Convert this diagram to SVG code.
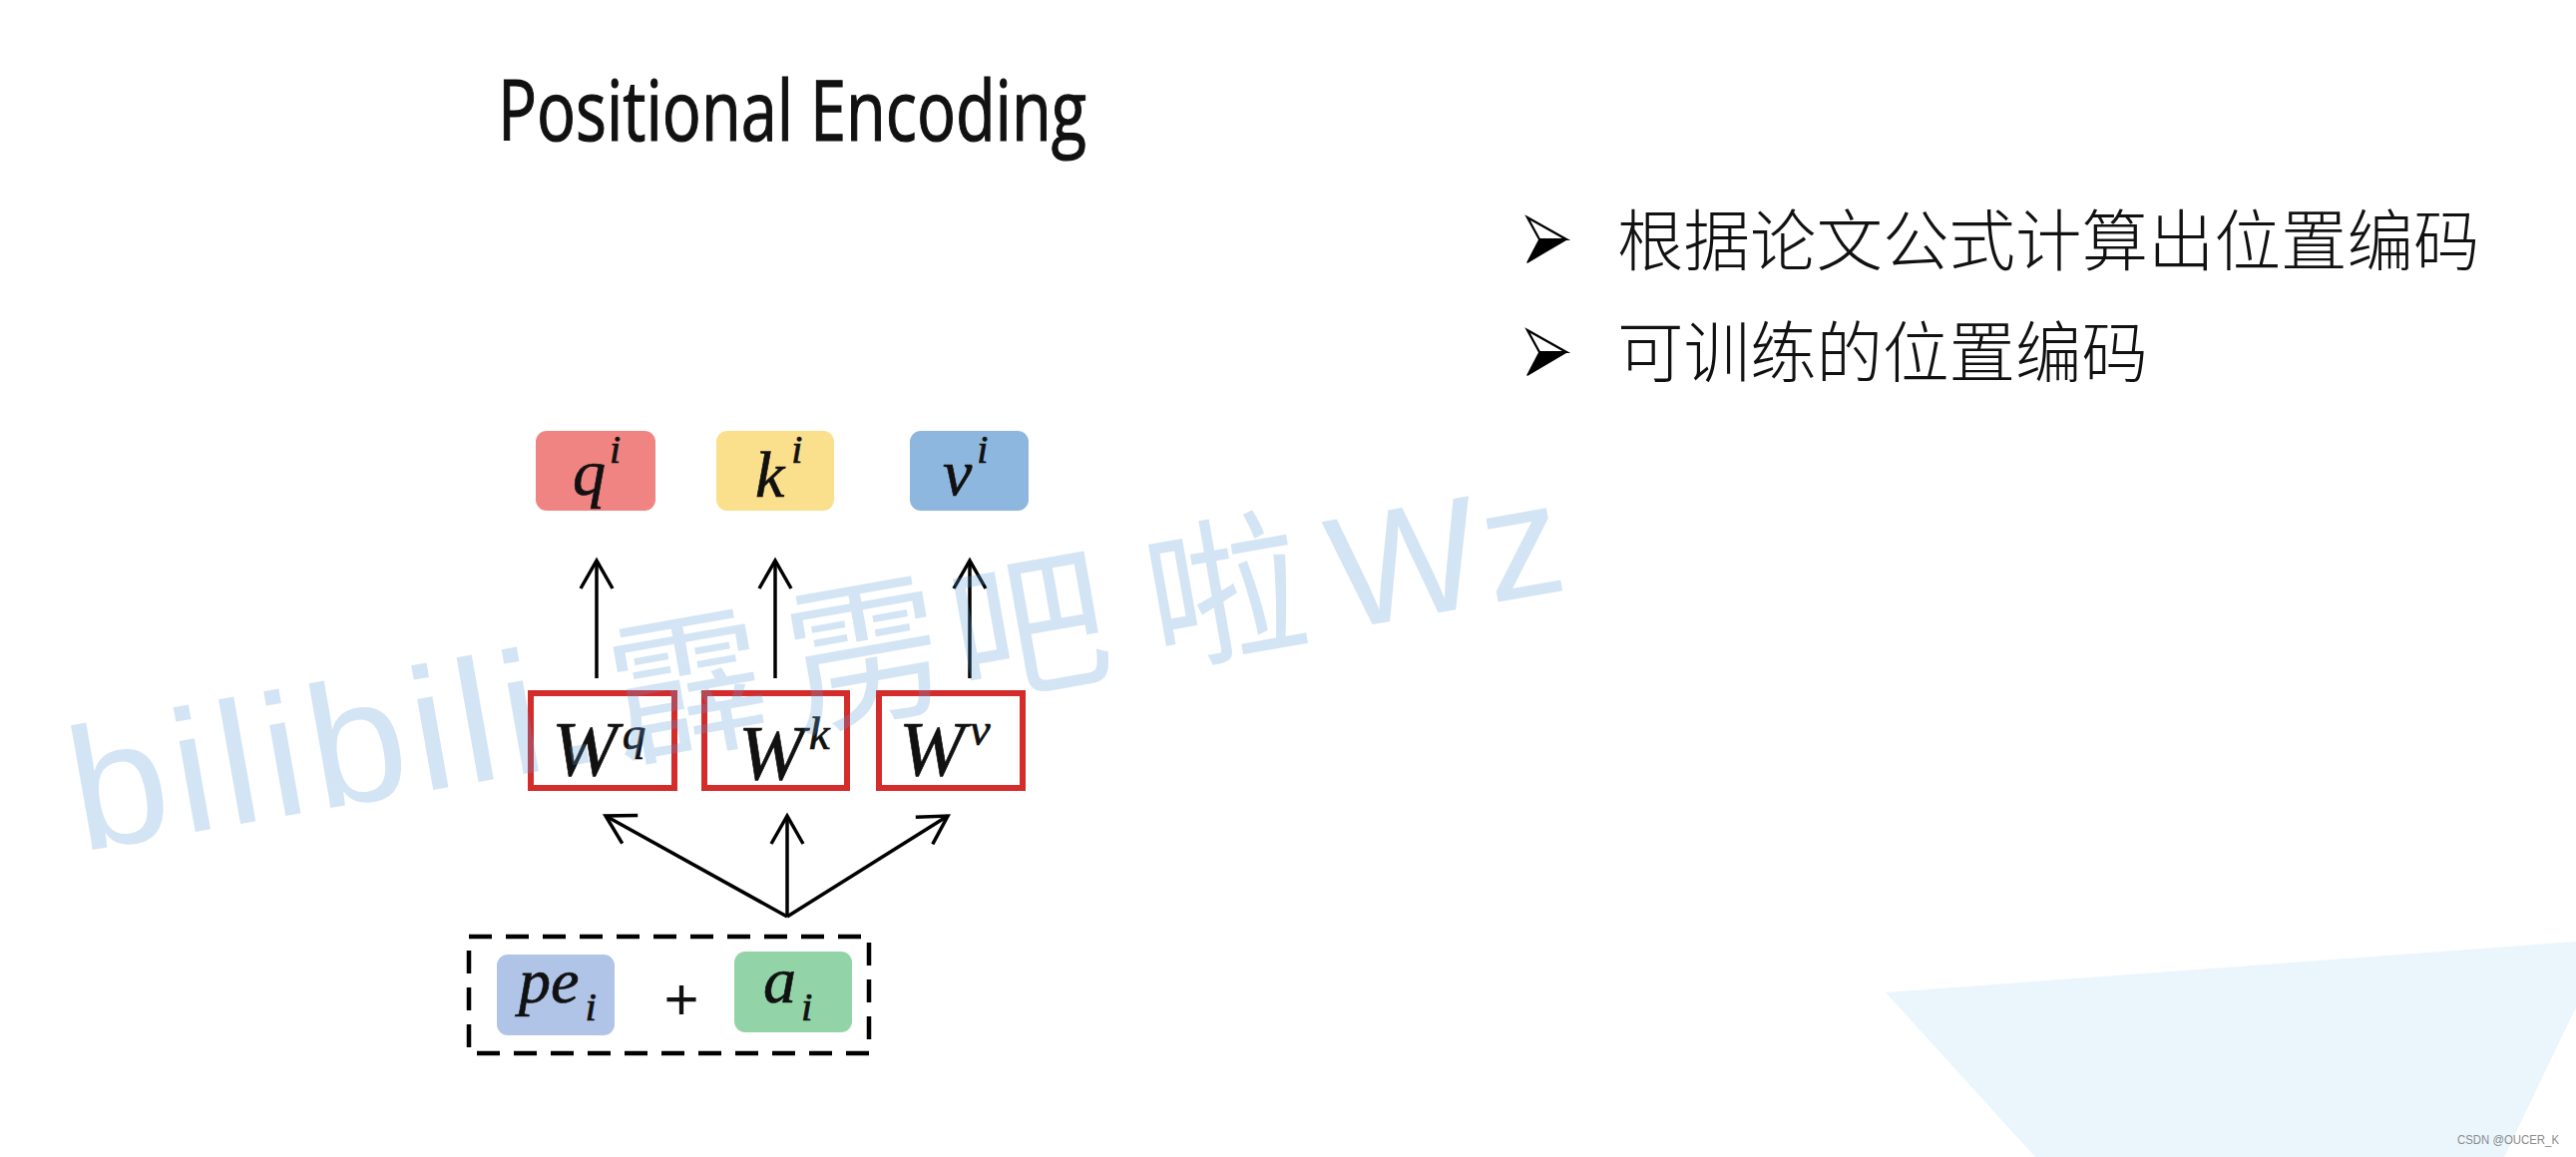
<svg xmlns="http://www.w3.org/2000/svg" width="2582" height="1160" viewBox="0 0 2582 1160">
  <style>
    .math { font-family: "Liberation Serif", "DejaVu Serif", serif; font-style: italic; fill: #111; stroke: #111; stroke-width: 0.7; }
    .cjk { font-family: "Noto Sans CJK SC", sans-serif; font-weight: 300; font-size: 66.5px; fill: #111; }
    .wbox { fill: none; stroke: #D42B2B; stroke-width: 6; }
    .conn { stroke: #000; stroke-width: 3.5; fill: none; }
    .wm { font-family: "Liberation Sans", "Noto Sans CJK SC", sans-serif; fill: #5B9BD5; fill-opacity: 0.27; text-anchor: middle; }
    .wmc { font-family: "Noto Sans CJK SC", sans-serif; font-size: 158px; }
  </style>
  <defs>
    <marker id="ah" viewBox="-32 -22 36 44" refX="0" refY="0" markerWidth="36" markerHeight="44" markerUnits="userSpaceOnUse" orient="auto">
      <path d="M-28,-16 L0,0 L-28,16" fill="none" stroke="#000" stroke-width="3.5" stroke-linejoin="miter"/>
    </marker>
    <g id="bullet">
      <polygon points="0,-22 39,0 12,0" fill="#fff" stroke="#000" stroke-width="2.2" stroke-linejoin="miter"/>
      <polygon points="12,0 39,0 0,23" fill="#000" stroke="#000" stroke-width="1.5" stroke-linejoin="round"/>
    </g>
  </defs>
  <rect width="2582" height="1160" fill="#fff"/>
  <polygon id="bg-shape" points="1890,995 2582,944 2582,1010 2510,1160 2040,1160" fill="#EAF6FC"/>

  <text id="title" x="499" y="141" font-family="Open Sans, Liberation Sans, sans-serif" font-size="85" textLength="590" lengthAdjust="spacingAndGlyphs" fill="#111" stroke="#111" stroke-width="1.2">Positional Encoding</text>

  <g id="bullets">
    <use href="#bullet" x="1531" y="240"/>
    <text class="cjk" x="1621" y="266">根据论文公式计算出位置编码</text>
    <use href="#bullet" x="1531" y="353"/>
    <text class="cjk" x="1621" y="378">可训练的位置编码</text>
  </g>

  <g id="node-q">
    <rect x="537" y="432" width="120" height="80" rx="11" fill="#F08482"/>
    <text class="math" x="574" y="496" font-size="66">q<tspan font-size="40" dx="4" dy="-32">i</tspan></text>
  </g>
  <g id="node-k">
    <rect x="718" y="432" width="118" height="80" rx="11" fill="#FADF8C"/>
    <text class="math" x="757" y="498" font-size="66">k<tspan font-size="40" dx="7" dy="-34">i</tspan></text>
  </g>
  <g id="node-v">
    <rect x="912" y="432" width="119" height="80" rx="11" fill="#8DB7DE"/>
    <text class="math" x="945" y="496" font-size="66">v<tspan font-size="40" dx="5" dy="-32">i</tspan></text>
  </g>

  <g id="node-Wq">
    <rect class="wbox" x="532" y="695" width="144" height="95"/>
    <text class="math" x="553" y="777" font-size="79">W<tspan font-size="47" dx="5" dy="-26">q</tspan></text>
  </g>
  <g id="node-Wk">
    <rect class="wbox" x="706" y="695" width="143" height="95"/>
    <text class="math" x="740" y="781" font-size="79">W<tspan font-size="47" dx="5" dy="-30">k</tspan></text>
  </g>
  <g id="node-Wv">
    <rect class="wbox" x="881" y="695" width="144" height="95"/>
    <text class="math" x="901" y="777" font-size="79">W<tspan font-size="47" dx="5" dy="-30">v</tspan></text>
  </g>

  <g id="node-input">
    <rect x="470" y="939" width="401" height="117" fill="none" stroke="#000" stroke-width="4.5" stroke-dasharray="23 14"/>
    <rect x="498" y="957" width="118" height="81" rx="11" fill="#B0C4E8"/>
    <text class="math" x="520" y="1005" font-size="64">pe<tspan font-size="41" dx="6" dy="18">i</tspan></text>
    <text x="683" y="1022" text-anchor="middle" font-family="Liberation Sans, sans-serif" font-size="60" fill="#111">+</text>
    <rect x="736" y="954" width="118" height="81" rx="11" fill="#92D4A8"/>
    <text class="math" x="765" y="1005" font-size="66">a<tspan font-size="41" dx="5" dy="18">i</tspan></text>
  </g>

  <g id="connectors">
    <line class="conn" x1="598" y1="680" x2="598" y2="562" marker-end="url(#ah)"/>
    <line class="conn" x1="777" y1="680" x2="777" y2="562" marker-end="url(#ah)"/>
    <line class="conn" x1="972" y1="680" x2="972" y2="562" marker-end="url(#ah)"/>
    <line class="conn" x1="789" y1="919" x2="607" y2="818" marker-end="url(#ah)"/>
    <line class="conn" x1="789" y1="919" x2="789" y2="818" marker-end="url(#ah)"/>
    <line class="conn" x1="789" y1="919" x2="950" y2="818" marker-end="url(#ah)"/>
  </g>

  <g id="watermark" transform="translate(82,854) rotate(-10)">
    <text class="wm" x="266" y="0" font-size="175" textLength="533" lengthAdjust="spacing">bilibili.</text>
    <text class="wm wmc" x="627" y="0">霹</text>
    <text class="wm wmc" x="808" y="0">雳</text>
    <text class="wm wmc" x="974" y="0">吧</text>
    <text class="wm wmc" x="1174" y="0">啦</text>
    <text class="wm" x="1356" y="0" font-size="160">W</text>
    <text class="wm" x="1475" y="0" font-size="160">z</text>
  </g>

  <text id="credit" x="2463" y="1147" font-family="Liberation Sans, sans-serif" font-size="12.6" textLength="102" lengthAdjust="spacingAndGlyphs" fill="#8A8A8A">CSDN @OUCER_K</text>
</svg>
